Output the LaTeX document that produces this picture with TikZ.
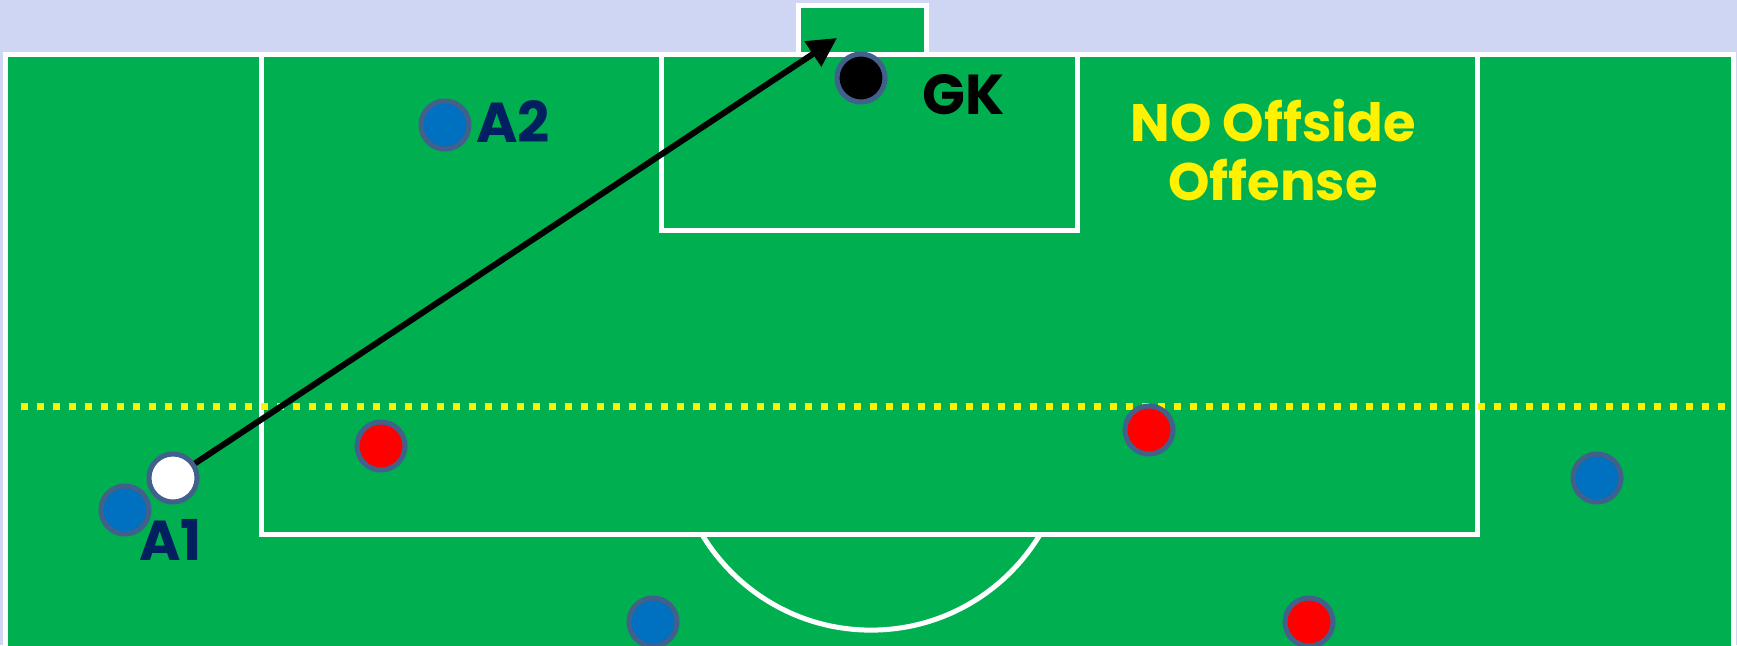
\documentclass[tikz,border=0pt]{standalone}
\usepackage{fontspec}
\setmainfont{Poppins}
\usetikzlibrary{positioning,arrows.meta}
\definecolor{sky}{RGB}{206,214,244}
\definecolor{pitch}{RGB}{0,176,80}
\definecolor{rim}{RGB}{65,96,140}
\definecolor{teamA}{RGB}{0,112,192}
\definecolor{navy}{RGB}{0,32,96}

\begin{document}
\begin{tikzpicture}[x=0.01cm,y=-0.01cm,
  line/.style={draw=white,line width=0.05cm},
  player/.style={circle,draw=rim,line width=0.05cm,minimum size=0.48cm,inner sep=0pt},
  lbl/.style={font=\fontsize{16}{18}\selectfont\bfseries,inner sep=0pt},
  pass/.style={-{Triangle[length=0.29cm,width=0.29cm]},line width=0.06cm}]
\fill[sky] (0,0) rectangle (1737,645);
\useasboundingbox (0,0) rectangle (1737,645);
% pitch and lines
\begin{scope}
\clip (0,0) rectangle (1737,645);
\filldraw[fill=pitch,line] (5.5,54) rectangle (1733,760);
\filldraw[fill=pitch,line] (798,5) rectangle (926,54);
\draw[line] (261,54) |- (1477,534) -- (1477,54);
\draw[line] (661,54) |- (1077,230) -- (1077,54);
\clip (0,534) rectangle (1737,645);
\draw[line] (871,433) circle[radius=1.97cm];
\end{scope}
% offside line
\draw[yellow,line width=0.07cm,dash pattern=on 0.07cm off 0.09cm] (21,406) -- (1730,406);
% players
\node[player,fill=teamA] (a2) at (445,125) {};
\node[player,fill=black] (gk) at (861,78) {};
\node[player,fill=teamA] (a1) at (125,510) {};
\node[player,fill=white] (ball) at (173,478) {};
\node[player,fill=red] (d1) at (381,446) {};
\node[player,fill=red] (d2) at (1149,430) {};
\node[player,fill=teamA] (a3) at (1597,478) {};
\node[player,fill=teamA] (a4) at (653,622) {};
\node[player,fill=red] (d3) at (1309,622) {};
% labels
\node[lbl,navy,right=0.04cm of a2,yshift=0.03cm] (a2lbl) {A2};
\node[lbl,right=0.34cm of gk,yshift=-0.17cm] (gklbl) {GK};
\node[lbl,navy,below right=-0.1cm and -0.05cm of a1] (a1lbl) {A1};
\node[yellow,align=center,font=\fontsize{15}{17}\selectfont\bfseries] (note) at (1273,150) {NO Offside\\Offense};
% pass
\coordinate (tgt) at (837,38);
\draw[pass] (ball) -- (tgt);
\end{tikzpicture}
\end{document}
